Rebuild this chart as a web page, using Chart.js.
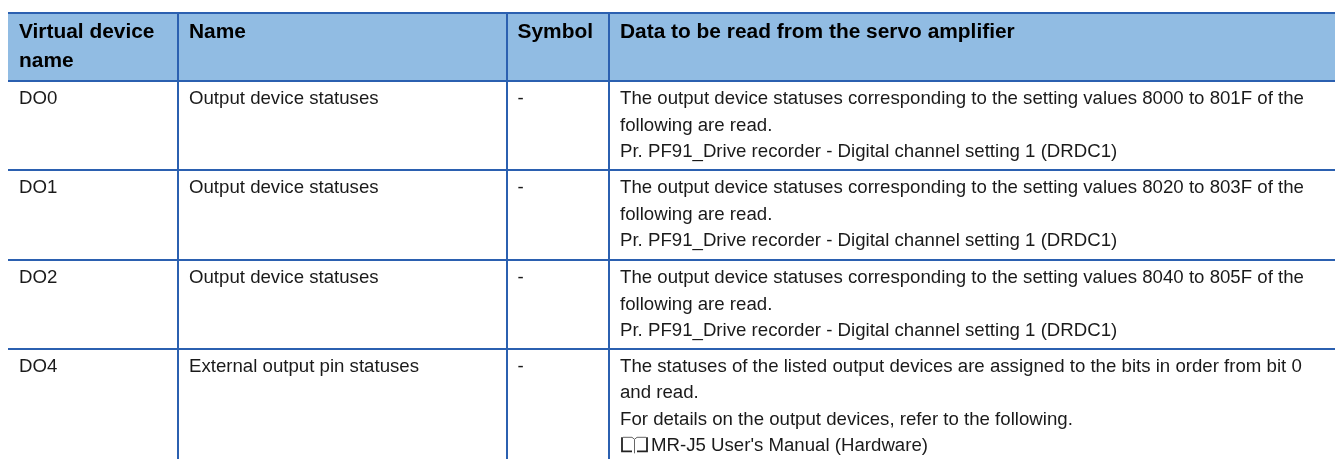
<!DOCTYPE html>
<html><head><meta charset="utf-8">
<style>html,body{margin:0;padding:0;background:#fff}canvas{display:block;filter:blur(0.4px)}</style>
<script src="https://cdn.jsdelivr.net/npm/chart.js@4"></script></head>
<body><div style="width:1335px;height:459px;position:relative;overflow:hidden"><canvas id="c" width="1335" height="459"></canvas></div>
<script>
const headers = [["Virtual device","name"],["Name"],["Symbol"],["Data to be read from the servo amplifier"]];
const deviceNames = ["DO0","DO1","DO2","DO4"];
const itemNames = ["Output device statuses","Output device statuses","Output device statuses","External output pin statuses"];
const symbols = ["-","-","-","-"];
const details = [
 ["The output device statuses corresponding to the setting values 8000 to 801F of the","following are read.","Pr. PF91_Drive recorder - Digital channel setting 1 (DRDC1)"],
 ["The output device statuses corresponding to the setting values 8020 to 803F of the","following are read.","Pr. PF91_Drive recorder - Digital channel setting 1 (DRDC1)"],
 ["The output device statuses corresponding to the setting values 8040 to 805F of the","following are read.","Pr. PF91_Drive recorder - Digital channel setting 1 (DRDC1)"],
 ["The statuses of the listed output devices are assigned to the bits in order from bit 0","and read.","For details on the output devices, refer to the following.","MR-J5 User's Manual (Hardware)"]
];
// table ruling, in scale units
const columnRules = [178,507,609];
const rowRules = [13,81,170,260,348.5];
const headBand = [{x:8,y:13},{x:1335,y:13}];

const BLUE='#2b60b0', FILL='#91bce3', INK='#1a1a1a';
const FONT='"Liberation Sans", Arial, sans-serif', SIZE=18.65, HEAD=20.9, LH=26.6, HLH=29.2;
const textX=[19,189,517.5,620];

const tablePlugin={id:'tableText',afterDraw(chart){
  const {ctx,scales:{x,y}}=chart;
  ctx.save();ctx.textBaseline='alphabetic';
  const body=(s,col,row,i,dx)=>{
    ctx.font=SIZE+'px '+FONT;ctx.fillStyle=INK;
    ctx.fillText(s,x.getPixelForValue(textX[col]+(dx||0)),y.getPixelForValue(rowRules[row]+23+i*LH));
  };
  ctx.font='bold '+HEAD+'px '+FONT;ctx.fillStyle='#000';
  headers.forEach((h,c)=>h.forEach((s,i)=>ctx.fillText(s,x.getPixelForValue(textX[c]),y.getPixelForValue(37.6+i*HLH))));
  deviceNames.forEach((_,r)=>{
    body(deviceNames[r],0,r+1,0);body(itemNames[r],1,r+1,0);body(symbols[r],2,r+1,0);
    details[r].forEach((s,i)=>body(s,3,r+1,i,(r===3&&i===3)?31:0));
  });
  // open-book reference icon before the manual title
  const bx=x.getPixelForValue(textX[3]), by=y.getPixelForValue(rowRules[4]+23+3*LH);
  ctx.strokeStyle='#222';ctx.lineWidth=1.8;ctx.beginPath();
  ctx.moveTo(bx+2,by-14);ctx.lineTo(bx+2,by);ctx.lineTo(bx+12,by);
  ctx.moveTo(bx+27,by-14);ctx.lineTo(bx+27,by);ctx.lineTo(bx+17,by);ctx.stroke();
  ctx.strokeStyle='#666';ctx.lineWidth=1;ctx.beginPath();
  ctx.moveTo(bx+3,by-14);ctx.lineTo(bx+12,by-14);ctx.lineTo(bx+14.5,by-12);ctx.lineTo(bx+17,by-14);ctx.lineTo(bx+26,by-14);
  ctx.moveTo(bx+14.5,by-12);ctx.lineTo(bx+14.5,by+2);ctx.stroke();
  ctx.restore();
}};
new Chart(document.getElementById('c'),{
  type:'line',
  data:{datasets:[{data:headBand,borderWidth:0,pointRadius:0,backgroundColor:FILL,fill:{value:rowRules[1]}}]},
  options:{responsive:false,animation:false,events:[],
    layout:{padding:{left:8,top:12,right:0,bottom:0}},
    plugins:{legend:{display:false},tooltip:{enabled:false},title:{display:false}},
    scales:{
      x:{type:'linear',min:8,max:1335,border:{display:false},ticks:{display:false},
        grid:{color:BLUE,lineWidth:2,drawTicks:false,z:1},
        afterBuildTicks(s){s.ticks=columnRules.map(v=>({value:v}));}},
      y:{type:'linear',reverse:true,min:12,max:459,border:{display:false},ticks:{display:false},
        grid:{color:BLUE,lineWidth:2,drawTicks:false,z:1},
        afterBuildTicks(s){s.ticks=rowRules.map(v=>({value:v}));}}
    }},
  plugins:[tablePlugin]
});
</script></body></html>
